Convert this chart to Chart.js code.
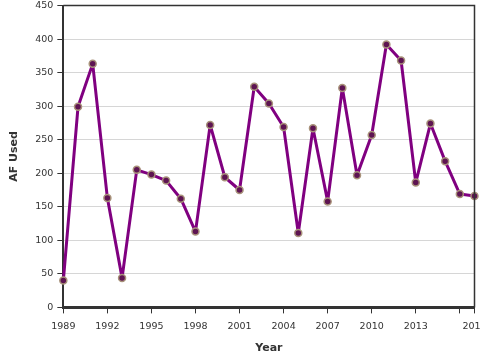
<!DOCTYPE html>
<html>
<head>
<meta charset="utf-8">
<script src="https://cdn.jsdelivr.net/npm/chart.js@4/dist/chart.umd.min.js"></script>
<style>
html,body{margin:0;padding:0;background:#fff;overflow:hidden;}
#wrap{width:480px;height:360px;position:relative;}
</style>
</head>
<body>
<div id="wrap"><canvas id="c" width="480" height="360"></canvas></div>
<script>
const years = [1989,1990,1991,1992,1993,1994,1995,1996,1997,1998,1999,2000,2001,2002,2003,2004,2005,2006,2007,2008,2009,2010,2011,2012,2013,2014,2015,2016,2017];
const afUsed = [40,299,363,163,44,205,198,189,162,113,272,194,175,329,304,269,111,267,158,327,197,257,392,368,186,274,218,169,166];
const xTicks = [1989,1992,1995,1998,2001,2004,2007,2010,2013,2016,2017];
const xTickLabels = ['1989','1992','1995','1998','2001','2004','2007','2010','2013','','2017'];
const yTicks = [0,50,100,150,200,250,300,350,400,450];

const FONT = "'DejaVu Sans', Verdana, sans-serif";

const framePlugin = {
  id: 'frame',
  afterDraw(chart) {
    const {ctx, chartArea: a} = chart;
    ctx.save();
    ctx.strokeStyle = '#333';
    ctx.lineWidth = 1.5;
    ctx.beginPath();
    ctx.moveTo(a.left, a.top);
    ctx.lineTo(a.right, a.top);
    ctx.lineTo(a.right, a.bottom);
    ctx.stroke();
    ctx.restore();
  }
};

new Chart(document.getElementById('c'), {
  type: 'line',
  data: {
    datasets: [{
      data: years.map((y, i) => ({x: y, y: afUsed[i]})),
      borderColor: '#800080',
      borderWidth: 3,
      borderJoinStyle: 'round',
      pointRadius: 3.5,
      pointBackgroundColor: '#5e1452',
      pointBorderColor: '#a8927a',
      pointBorderWidth: 1.5,
      tension: 0,
      clip: false
    }]
  },
  options: {
    responsive: false,
    animation: false,
    layout: {padding: {top: 4, right: 4, bottom: 5, left: 8}},
    plugins: {legend: {display: false}, tooltip: {enabled: false}},
    scales: {
      x: {
        type: 'linear',
        min: 1989,
        max: 2017,
        afterBuildTicks(scale) { scale.ticks = xTicks.map(v => ({value: v})); },
        afterFit(scale) { scale.paddingRight = 0; scale.paddingLeft = 0; },
        ticks: {
          autoSkip: false,
          maxRotation: 0,
          color: '#333',
          font: {family: FONT, size: 9.5},
          padding: 7,
          callback(v) { const i = xTicks.indexOf(v); return i >= 0 ? xTickLabels[i] : ''; }
        },
        grid: {drawOnChartArea: false, drawTicks: true, tickLength: 6, color: '#333', lineWidth: 1},
        border: {display: true, color: '#333', width: 3},
        title: {display: true, text: 'Year', color: '#333', font: {family: FONT, size: 11, weight: 'bold'}, padding: {top: 3, bottom: 0}}
      },
      y: {
        min: 0,
        max: 450,
        afterBuildTicks(scale) { scale.ticks = yTicks.map(v => ({value: v})); },
        afterFit(scale) { scale.paddingTop = 0; scale.paddingBottom = 0; },
        ticks: {
          color: '#333',
          font: {family: FONT, size: 9.5},
          padding: 4
        },
        grid: {color: '#d6d6d6', lineWidth: 1, drawTicks: true, tickLength: 6, tickColor: '#333'},
        border: {display: true, color: '#333', width: 2},
        title: {display: true, text: 'AF Used', color: '#333', font: {family: FONT, size: 11, weight: 'bold'}, padding: {top: 0, bottom: 10}}
      }
    }
  },
  plugins: [framePlugin]
});
</script>
</body>
</html>
